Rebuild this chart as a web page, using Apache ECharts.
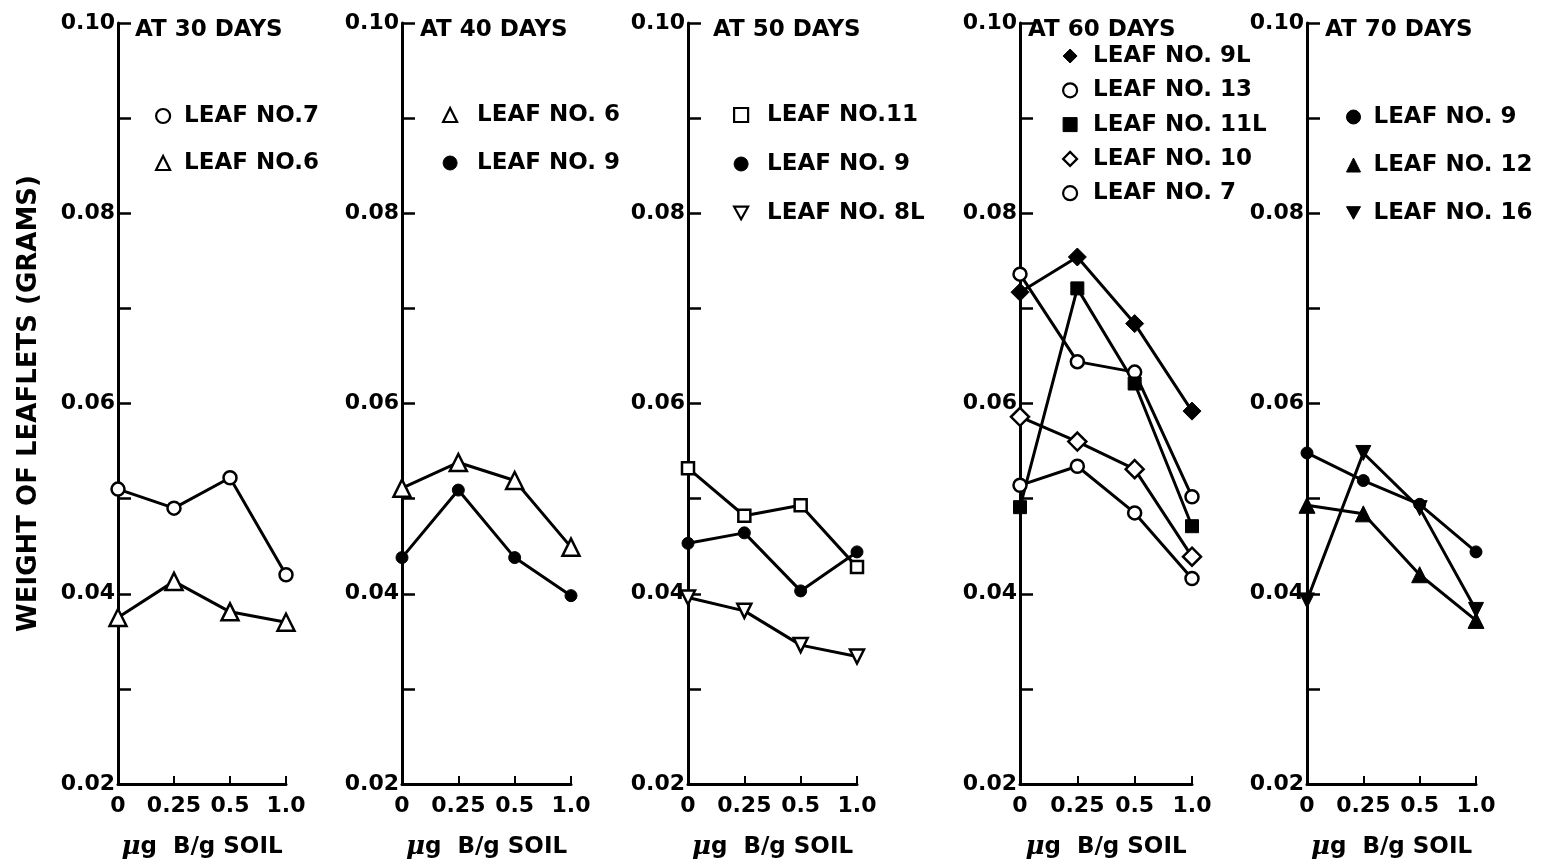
<!DOCTYPE html>
<html>
<head>
<meta charset="utf-8">
<script src="https://cdn.jsdelivr.net/npm/echarts@6/dist/echarts.min.js"></script>
<style>
html,body{margin:0;padding:0;background:#fff;}
#chart{width:1541px;height:865px;}
</style>
</head>
<body>
<div id="chart"></div>
<script>
// ---- data ----
const categories = ['0', '0.25', '0.5', '1.0'];
const panelTitles = ['AT 30 DAYS', 'AT 40 DAYS', 'AT 50 DAYS', 'AT 60 DAYS', 'AT 70 DAYS'];

// 30 days
const d30_leaf7 = [0.0510, 0.0490, 0.0522, 0.0420];
const d30_leaf6 = [0.0375, 0.0413, 0.0381, 0.0370];
// 40 days
const d40_leaf6 = [0.0511, 0.0538, 0.0519, 0.0449];
const d40_leaf9 = [0.0438, 0.0509, 0.0438, 0.0398];
// 50 days
const d50_leaf11 = [0.0532, 0.0482, 0.0493, 0.0428];
const d50_leaf9 = [0.0453, 0.0464, 0.0403, 0.0444];
const d50_leaf8L = [0.0396, 0.0382, 0.0346, 0.0334];
// 60 days
const d60_leaf9L = [0.0717, 0.0754, 0.0684, 0.0592];
const d60_leaf13 = [0.0736, 0.0644, 0.0633, 0.0502];
const d60_leaf11L = [0.0491, 0.0721, 0.0621, 0.0471];
const d60_leaf10 = [0.0586, 0.0560, 0.0531, 0.0439];
const d60_leaf7 = [0.0514, 0.0534, 0.0485, 0.0416];
// 70 days
const d70_leaf9 = [0.0548, 0.0519, 0.0494, 0.0444];
const d70_leaf12 = [0.0493, 0.0484, 0.0420, 0.0372];
const d70_leaf16 = [0.0393, 0.0548, 0.0490, 0.0383];

// ---- styling / layout ----
const FONT = 'DejaVu Sans';
const DOWN_TRI = 'path://M0,0L10,0L5,9Z';
const defs = [
  {p:0, key:'p0a', label:'LEAF NO.7',   data:d30_leaf7,  sym:'circle',   open:true,  size:13},
  {p:0, key:'p0b', label:'LEAF NO.6',   data:d30_leaf6,  sym:'triangle', open:true,  size:17},
  {p:1, key:'p1a', label:'LEAF NO. 6',  data:d40_leaf6,  sym:'triangle', open:true,  size:17},
  {p:1, key:'p1b', label:'LEAF NO. 9',  data:d40_leaf9,  sym:'circle',   open:false, size:12},
  {p:2, key:'p2a', label:'LEAF NO.11',  data:d50_leaf11, sym:'rect',     open:true,  size:12},
  {p:2, key:'p2b', label:'LEAF NO. 9',  data:d50_leaf9,  sym:'circle',   open:false, size:12},
  {p:2, key:'p2c', label:'LEAF NO. 8L', data:d50_leaf8L, sym:DOWN_TRI,   open:true,  size:14},
  {p:3, key:'p3a', label:'LEAF NO. 9L', data:d60_leaf9L, sym:'diamond',  open:false, size:18},
  {p:3, key:'p3b', label:'LEAF NO. 13', data:d60_leaf13, sym:'circle',   open:true,  size:13},
  {p:3, key:'p3c', label:'LEAF NO. 11L',data:d60_leaf11L,sym:'rect',     open:false, size:13},
  {p:3, key:'p3d', label:'LEAF NO. 10', data:d60_leaf10, sym:'diamond',  open:true,  size:18},
  {p:3, key:'p3e', label:'LEAF NO. 7',  data:d60_leaf7,  sym:'circle',   open:true,  size:13},
  {p:4, key:'p4a', label:'LEAF NO. 9',  data:d70_leaf9,  sym:'circle',   open:false, size:12},
  {p:4, key:'p4b', label:'LEAF NO. 12', data:d70_leaf12, sym:'triangle', open:false, size:16},
  {p:4, key:'p4c', label:'LEAF NO. 16', data:d70_leaf16, sym:DOWN_TRI,   open:false, size:15}
];

const grids = [
  {left:118,  width:168},
  {left:402,  width:169},
  {left:688,  width:169},
  {left:1020, width:172},
  {left:1307, width:169}
];
const titleX = [135, 420, 713, 1028, 1325];
// legend layout: symbol centre x, text start x, first item centre y, item spacing
const legendLayout = [
  {sx:162,  tx:183,  y0:116, dy:47},
  {sx:449,  tx:476,  y0:115, dy:48},
  {sx:740,  tx:766,  y0:115, dy:49},
  {sx:1069, tx:1092, y0:56,  dy:34.3},
  {sx:1353, tx:1373, y0:117, dy:48}
];
const ICON = 14;

const labelMap = {};
defs.forEach(d => labelMap[d.key] = d.label);

function itemStyleOf(d) {
  return d.open
    ? {color:'#fff', borderColor:'#000', borderWidth:2.5}
    : {color:'#000', borderColor:'#000', borderWidth:1};
}

const option = {
  animation: false,
  backgroundColor: '#fff',
  textStyle: {fontFamily: FONT, color:'#000'},
  title: titleX.map((x, i) => ({
    text: panelTitles[i], left: x, top: 19, padding: 0,
    textStyle: {fontFamily: FONT, fontSize: 23, fontWeight: 'bold', color: '#000'}
  })),
  grid: grids.map(g => ({left: g.left, width: g.width, top: 23, bottom: 81, containLabel: false})),
  xAxis: grids.map((g, i) => ({
    type: 'category', gridIndex: i, data: categories, boundaryGap: false,
    axisLine: {lineStyle: {color:'#000', width:3}},
    axisTick: {inside: true, length: 8, interval: 0, lineStyle: {color:'#000', width:2}},
    axisLabel: {color:'#000', fontFamily: FONT, fontSize: 22, fontWeight: 'bold', margin: 11,
      interval: 0, hideOverlap: false},
    name: '{mu|μ}g  B/g SOIL', nameLocation: 'middle', nameGap: 50,
    nameTextStyle: {color:'#000', fontFamily: FONT, fontSize: 23, fontWeight: 'bold',
      rich: {mu: {fontFamily: 'DejaVu Serif', fontStyle: 'italic', fontWeight: 'bold', fontSize: 26, color:'#000'}}},
    splitLine: {show: false}
  })),
  yAxis: grids.map((g, i) => ({
    type: 'value', gridIndex: i, min: 0.02, max: 0.10, interval: 0.01,
    axisLine: {show: true, lineStyle: {color:'#000', width:3}},
    axisTick: {show: true, inside: true, length: 13, lineStyle: {color:'#000', width:2.5}},
    axisLabel: {color:'#000', fontFamily: FONT, fontSize: 22, fontWeight: 'bold', margin: 3,
      formatter: v => (Math.round(v * 100) % 2 === 0 ? v.toFixed(2) : '')},
    splitLine: {show: false},
    name: i === 0 ? 'WEIGHT OF LEAFLETS (GRAMS)' : '',
    nameLocation: 'middle', nameGap: 76,
    nameTextStyle: {color:'#000', fontFamily: FONT, fontSize: 26, fontWeight: 'bold'}
  })),
  legend: legendLayout.map((L, p) => {
    const items = defs.filter(d => d.p === p);
    return {
      orient: 'vertical', left: L.sx - ICON / 2, top: L.y0 - 12, padding: 0,
      itemWidth: ICON, itemHeight: ICON, itemGap: L.dy - 24, selectedMode: false,
      textStyle: {fontFamily: FONT, fontSize: 23, fontWeight: 'bold', color:'#000', lineHeight: 24,
        padding: [0, 0, 0, L.tx - L.sx - ICON / 2 - 5]},
      formatter: name => labelMap[name],
      data: items.map(d => ({name: d.key, icon: d.sym,
        itemStyle: Object.assign({}, itemStyleOf(d), {borderWidth: d.open ? 2.2 : 1})}))
    };
  }),
  series: defs.map(d => ({
    type: 'line', name: d.key, xAxisIndex: d.p, yAxisIndex: d.p,
    data: d.data, symbol: d.sym, symbolSize: d.size, showSymbol: true,
    lineStyle: {color:'#000', width: 3},
    itemStyle: itemStyleOf(d),
    emphasis: {disabled: true}
  }))
};

const chart = echarts.init(document.getElementById('chart'), null, {renderer: 'canvas'});
chart.setOption(option);
</script>
</body>
</html>
